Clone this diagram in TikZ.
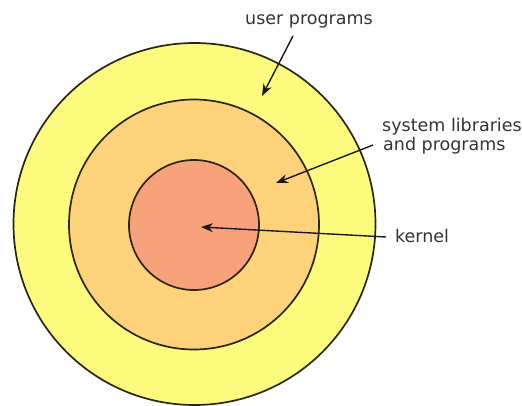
\documentclass[tikz,border=0pt]{standalone}
\usepackage{fontspec}
\setmainfont{DejaVu Sans}
\usetikzlibrary{arrows.meta}
\definecolor{userfill}{HTML}{FDFB7E}
\definecolor{sysfill}{HTML}{FDD27A}
\definecolor{kernfill}{HTML}{F8A27B}
\definecolor{ringline}{HTML}{2A2612}
\begin{document}
\begin{tikzpicture}[x=1pt,y=-1pt,
  ring/.style={circle,draw=ringline,line width=1.7pt,inner sep=0pt},
  label/.style={font=\fontsize{17.5}{20}\selectfont,text=black!80,inner sep=0pt},
  pointer/.style={draw=black!90,line width=1.4pt,-{Stealth[length=12pt,width=9pt]}}]
  \useasboundingbox (0,0) rectangle (522,406);
  % concentric layers
  \node[ring,fill=userfill,minimum size=362pt] (outer) at (194.5,224) {};
  \node[ring,fill=sysfill,minimum size=250pt] (middle) at (194,224.5) {};
  \node[ring,fill=kernfill,minimum size=130pt] (inner) at (194,225) {};
  % labels
  \node[label,anchor=base] (lu) at (309,25) {user programs};
  \node[label,anchor=base west] (ls1) at (382,132) {system libraries};
  \node[label,anchor=base west] (ls2) at (383,151) {and programs};
  \node[label,anchor=base west] (lk) at (395,242) {kernel};
  % arrow ends
  \coordinate (u0) at (293,36);
  \coordinate (u1) at (262,96);
  \coordinate (s0) at (373,145);
  \coordinate (s1) at (276,183);
  \coordinate (k0) at (386,237);
  \coordinate (k1) at (201,227);
  \draw[pointer] (u0) -- (u1);
  \draw[pointer] (s0) -- (s1);
  \draw[pointer] (k0) -- (k1);
\end{tikzpicture}
\end{document}
